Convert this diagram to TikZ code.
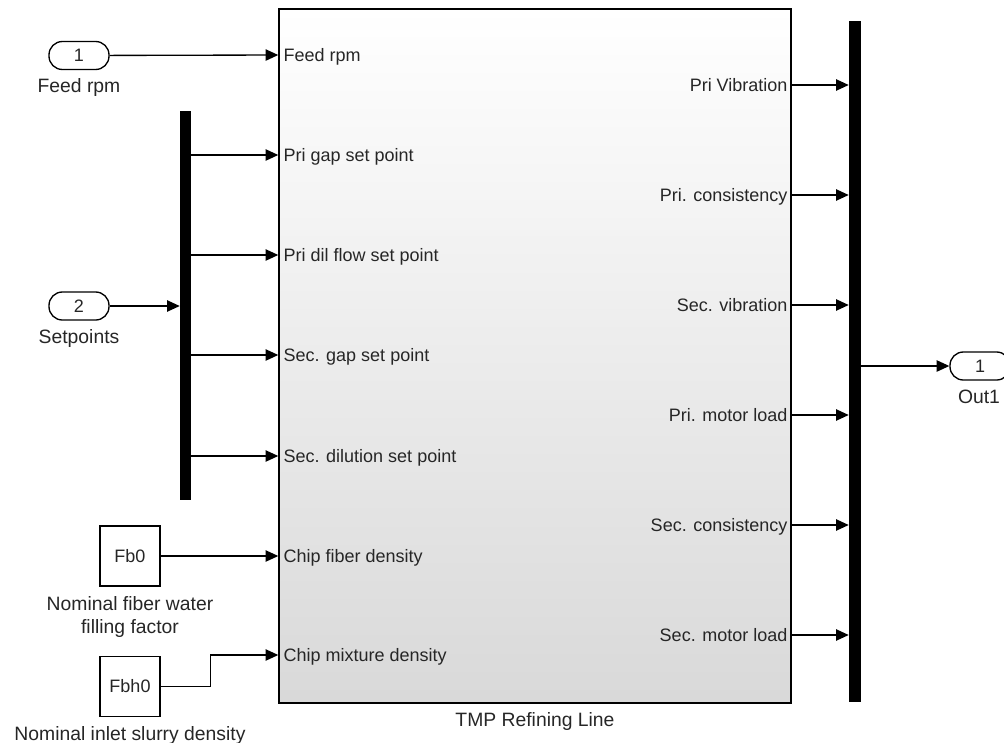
\documentclass[tikz,border=0pt]{standalone}
\usepackage{fontspec}
\setmainfont{Liberation Sans}
\usetikzlibrary{arrows.meta,positioning,calc}

\begin{document}
\begin{tikzpicture}[x=0.75pt,y=-0.75pt,>={Triangle[length=9.5pt,width=8.5pt]},
  every node/.style={text=black!85},
  sig/.style={->,line width=1pt},
  port/.style={draw=black,line width=1pt,rounded corners=10pt,minimum width=45pt,minimum height=21pt,inner sep=0pt,font=\fontsize{13.5}{16}\selectfont},
  konst/.style={draw=black,line width=1pt,minimum size=45pt,inner sep=0pt,font=\fontsize{13.5}{16}\selectfont},
  bus/.style={fill=black,inner sep=0pt},
  lbl/.style={font=\fontsize{14.5}{17.25}\selectfont,align=center,inner sep=0pt},
  pin/.style={font=\fontsize{13.5}{16}\selectfont,inner sep=0pt}]
\path[use as bounding box,clip] (0,0) rectangle (1004,743);
\node[draw=black,line width=1.1pt,top color=white,bottom color=gray!30,minimum width=384pt,minimum height=520.5pt,inner sep=0pt] (refiner) at (535,356) {};
\node[lbl,anchor=base] (reflbl) at (535,726) {TMP Refining Line};

\coordinate (i1) at (refiner.west |- 0,55);
\coordinate (i2) at (refiner.west |- 0,155);
\coordinate (i3) at (refiner.west |- 0,255);
\coordinate (i4) at (refiner.west |- 0,355);
\coordinate (i5) at (refiner.west |- 0,456);
\coordinate (i6) at (refiner.west |- 0,556);
\coordinate (i7) at (refiner.west |- 0,655);
\coordinate (o1) at (refiner.east |- 0,85);
\coordinate (o2) at (refiner.east |- 0,195);
\coordinate (o3) at (refiner.east |- 0,305);
\coordinate (o4) at (refiner.east |- 0,415);
\coordinate (o5) at (refiner.east |- 0,525);
\coordinate (o6) at (refiner.east |- 0,635);

\node[pin,anchor=base west] (pin1) at ($(i1)+(5,6)$) {Feed rpm};
\node[pin,anchor=base west] (pin2) at ($(i2)+(5,6)$) {Pri gap set point};
\node[pin,anchor=base west] (pin3) at ($(i3)+(5,6)$) {Pri dil flow set point};
\node[pin,anchor=base west] (pin4) at ($(i4)+(5,6)$) {Sec. gap set point};
\node[pin,anchor=base west] (pin5) at ($(i5)+(5,6)$) {Sec. dilution set point};
\node[pin,anchor=base west] (pin6) at ($(i6)+(5,6)$) {Chip fiber density};
\node[pin,anchor=base west] (pin7) at ($(i7)+(5,6)$) {Chip mixture density};
\node[pin,anchor=base east] (pout1) at ($(o1)+(-4,6)$) {Pri Vibration};
\node[pin,anchor=base east] (pout2) at ($(o2)+(-4,6)$) {Pri. consistency};
\node[pin,anchor=base east] (pout3) at ($(o3)+(-4,6)$) {Sec. vibration};
\node[pin,anchor=base east] (pout4) at ($(o4)+(-4,6)$) {Pri. motor load};
\node[pin,anchor=base east] (pout5) at ($(o5)+(-4,6)$) {Sec. consistency};
\node[pin,anchor=base east] (pout6) at ($(o6)+(-4,6)$) {Sec. motor load};

\node[port] (feed) at (79,55.5) {1};
\node[lbl,anchor=base] (feedlbl) at (79,92) {Feed rpm};
\node[port] (setp) at (79,306) {2};
\node[lbl,anchor=base] (setplbl) at (79,343) {Setpoints};
\node[bus,minimum width=8.25pt,minimum height=291.75pt] (spbus) at (185.5,305.5) {};

\node[konst] (fb0) at (130,556) {Fb0};
\node[lbl,anchor=base] (fb0lbl) at (130,633) {Nominal fiber water\\filling factor};
\node[konst] (fbh0) at (130,686.5) {Fbh0};
\node[lbl,anchor=base] (fbh0lbl) at (130,740) {Nominal inlet slurry density};

\node[bus,minimum width=9pt,minimum height=510.75pt] (outbus) at (855,361.5) {};
\node[port] (out1) at (980,366) {1};
\node[lbl,anchor=base] (out1lbl) at (979,403) {Out1};

\draw[sig] (feed) -- (i1);
\draw[sig] (setp) -- (setp -| spbus.west);
\draw[sig] (spbus.east |- i2) -- (i2);
\draw[sig] (spbus.east |- i3) -- (i3);
\draw[sig] (spbus.east |- i4) -- (i4);
\draw[sig] (spbus.east |- i5) -- (i5);
\draw[sig] (fb0) -- (i6);
\draw[sig] (fbh0.east) -- ++(50,0) |- (i7);
\draw[sig] (o1) -- (o1 -| outbus.west);
\draw[sig] (o2) -- (o2 -| outbus.west);
\draw[sig] (o3) -- (o3 -| outbus.west);
\draw[sig] (o4) -- (o4 -| outbus.west);
\draw[sig] (o5) -- (o5 -| outbus.west);
\draw[sig] (o6) -- (o6 -| outbus.west);
\draw[sig] (outbus.east |- out1) -- (out1);
\end{tikzpicture}
\end{document}
